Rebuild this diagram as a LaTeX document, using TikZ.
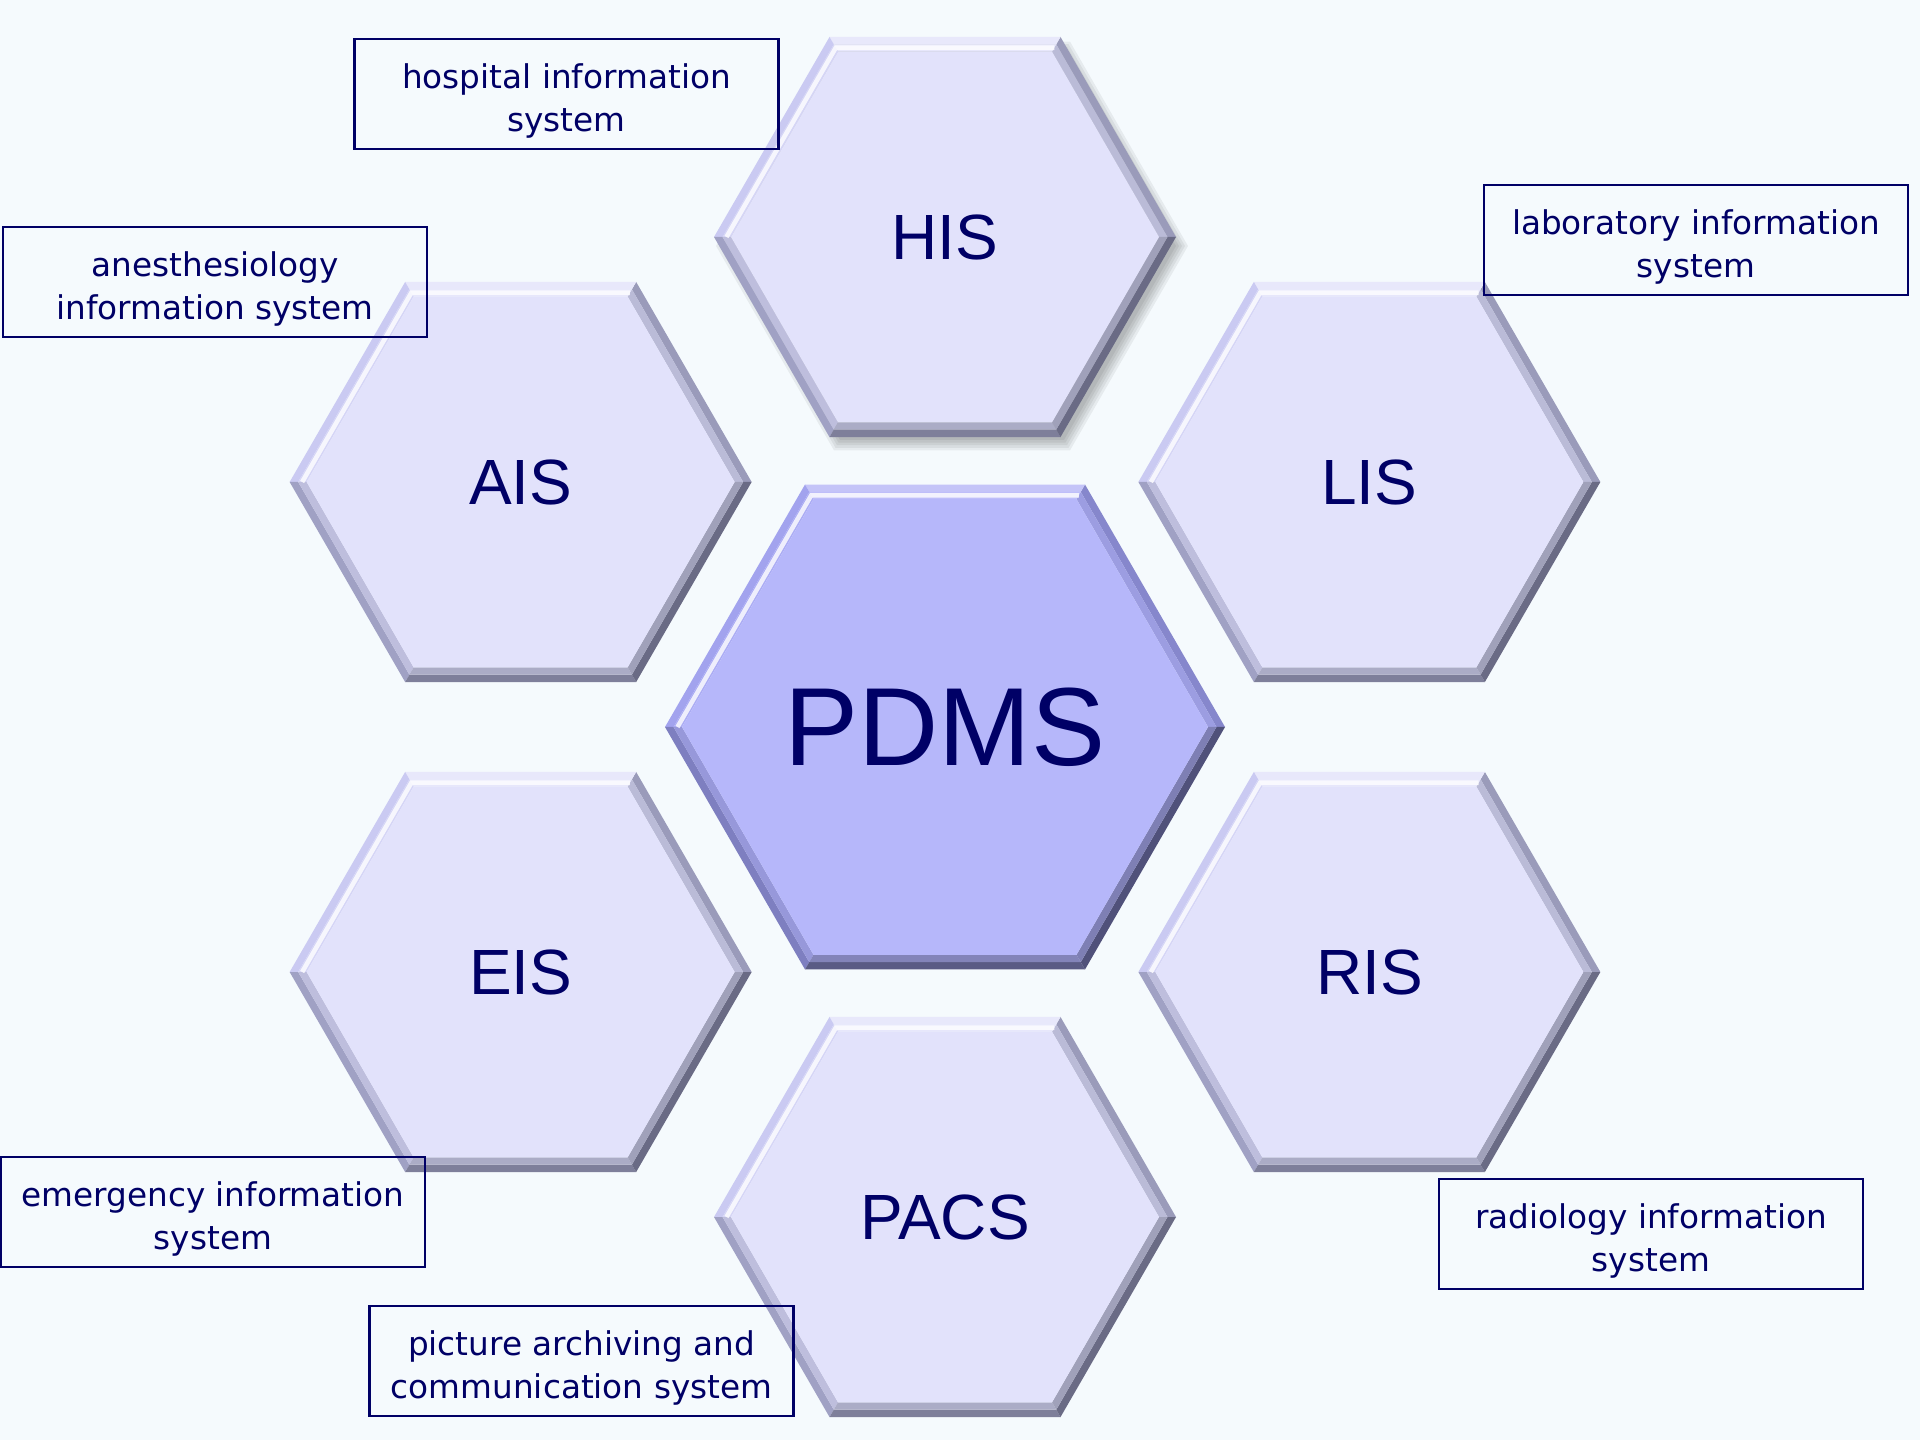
\documentclass[tikz,border=0pt]{standalone}
\usepackage{fontspec}
\setmainfont{Liberation Sans}
\newfontfamily\boxfont{DejaVu Sans}
\usepackage{tikz}
\usetikzlibrary{calc}

\definecolor{bgcol}{HTML}{F5FAFD}
\definecolor{navy}{HTML}{000066}
\definecolor{hexfill}{HTML}{E2E2FB}
\definecolor{corefill}{HTML}{B6B7FA}
% bevel faces: 0 upper right, 1 top, 2 upper left, 3 lower left, 4 bottom, 5 lower right
\definecolor{lightA0}{HTML}{9A9BBA}
\definecolor{lightA1}{HTML}{E8E8FB}
\definecolor{lightA2}{HTML}{CACAF2}
\definecolor{lightA3}{HTML}{A0A1C4}
\definecolor{lightA4}{HTML}{7E7F9A}
\definecolor{lightA5}{HTML}{6A6B85}
\definecolor{coreA0}{HTML}{8687CC}
\definecolor{coreA1}{HTML}{C4C4F8}
\definecolor{coreA2}{HTML}{A2A3EE}
\definecolor{coreA3}{HTML}{7E7FC0}
\definecolor{coreA4}{HTML}{5A5B84}
\definecolor{coreA5}{HTML}{50517A}

% bevelled hexagon: center, radius, bevel palette, face colour
\newcommand{\bevelhex}[4]{%
  \begin{scope}[shift={(#1)}]
    \pgfmathsetmacro\rin{#2-0.17}
    \pgfmathsetmacro\rmid{#2-0.085}
    \foreach \k in {0,...,5} {
      \pgfmathsetmacro\aa{60*\k}
      \pgfmathsetmacro\bb{60*\k+60}
      \fill[#3\k] (\aa:#2) -- (\bb:#2) -- (\bb:\rmid) -- (\aa:\rmid) -- cycle;
      \fill[#3\k!55!#4] (\aa:\rmid) -- (\bb:\rmid) -- (\bb:\rin) -- (\aa:\rin) -- cycle;
    }
    \fill[#4] (0:\rin) -- (60:\rin) -- (120:\rin) -- (180:\rin) -- (240:\rin) -- (300:\rin) -- cycle;
    \pgfmathsetmacro\rhi{\rin+0.045}
    \draw[white, line width=1.3pt, opacity=0.8] (60:\rhi) -- (120:\rhi) -- (180:\rhi);
  \end{scope}}

\begin{document}
\begin{tikzpicture}
    \def\rsat{2.31}
    \def\rcore{2.80}

    % --- DEFINE STYLES ---
    % Style for the system abbreviations
    \tikzstyle{hexlabel} = [inner sep=0pt, text=navy, font=\fontsize{18.2}{22}\selectfont]
    % Style for the centre label
    \tikzstyle{corelabel} = [hexlabel, font=\fontsize{31.6}{38}\selectfont]
    % Style for the explanation boxes and their text
    \tikzstyle{infobox} = [draw=navy, line width=0.6pt, minimum width=4.24cm, minimum height=1.10cm, inner sep=0pt]
    \tikzstyle{infotext} = [inner sep=0pt, align=center, text=navy, font=\boxfont\fontsize{9.3}{12.5}\selectfont]

    % background
    \fill[bgcol] (0,0) rectangle (19.2,14.4);
    \useasboundingbox (0,0) rectangle (19.2,14.4);

    % --- HEXAGON CENTRES ---
    \coordinate (pdms) at (9.45,7.13);
    \foreach \n/\a in {his/90, lis/30, ris/-30, pacs/-90, eis/210, ais/150} {
        \coordinate (\n) at ($(pdms)+(\a:4.9)$);
    }

    % soft shadow under HIS
    \foreach \i in {0,...,4} {
        \pgfmathsetmacro\rs{\rsat+0.05-0.03*\i}
        \fill[black, opacity=0.06, shift={($(his)+(0.07,-0.09)$)}]
            (0:\rs) -- (60:\rs) -- (120:\rs) -- (180:\rs) -- (240:\rs) -- (300:\rs) -- cycle;
    }

    % --- DRAW HEXAGONS ---
    \foreach \n in {his, lis, ris, pacs, eis, ais} {
        \bevelhex{\n}{\rsat}{lightA}{hexfill}
    }
    \bevelhex{pdms}{\rcore}{coreA}{corefill}

    % labels
    \node[corelabel] (pdmslabel) at (pdms) {PDMS};
    \node[hexlabel] (hislabel) at (his) {HIS};
    \node[hexlabel] (aislabel) at (ais) {AIS};
    \node[hexlabel] (lislabel) at (lis) {LIS};
    \node[hexlabel] (eislabel) at (eis) {EIS};
    \node[hexlabel] (rislabel) at (ris) {RIS};
    \node[hexlabel] (pacslabel) at (pacs) {PACS};

    % --- EXPLANATION BOXES ---
    \node[infobox] (hisbox) at (5.665,13.46) {};
    \node[infobox] (aisbox) at (2.15,11.58) {};
    \node[infobox] (lisbox) at (16.96,12.00) {};
    \node[infobox] (eisbox) at (2.13,2.28) {};
    \node[infobox] (pacsbox) at (5.815,0.79) {};
    \node[infobox] (risbox) at (16.51,2.06) {};

    \node[infotext] (histext) at ([yshift=-0.07cm]hisbox.center) {hospital information\\system};
    \node[infotext] (aistext) at ([yshift=-0.07cm]aisbox.center) {anesthesiology\\information system};
    \node[infotext] (listext) at ([yshift=-0.07cm]lisbox.center) {laboratory information\\system};
    \node[infotext] (eistext) at ([yshift=-0.07cm]eisbox.center) {emergency information\\system};
    \node[infotext] (pacstext) at ([yshift=-0.07cm]pacsbox.center) {picture archiving and\\communication system};
    \node[infotext] (ristext) at ([yshift=-0.07cm]risbox.center) {radiology information\\system};
\end{tikzpicture}
\end{document}
